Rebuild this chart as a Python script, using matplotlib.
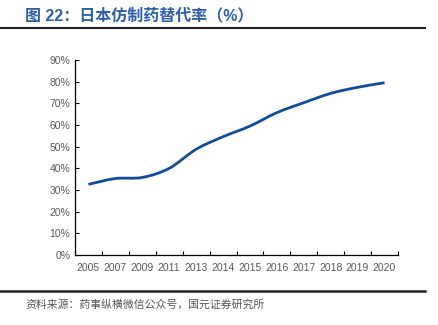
import numpy as np
import matplotlib
matplotlib.use('Agg')
import matplotlib.pyplot as plt
from matplotlib.path import Path
from matplotlib.patches import PathPatch
from matplotlib.lines import Line2D

plt.rcParams['font.family'] = ['Liberation Sans', 'Noto Sans CJK SC', 'DejaVu Sans']

# 数据
years = ['2005', '2007', '2009', '2011', '2013', '2014',
         '2015', '2016', '2017', '2018', '2019', '2020']
rate = [32.6, 35.3, 35.8, 40.0, 48.8, 54.6,
        59.5, 65.7, 70.3, 74.6, 77.4, 79.5]

title = '图 22：日本仿制药替代率（%）'
source = '资料来源：药事纵横微信公众号，国元证券研究所'

fig = plt.figure(figsize=(4.38, 3.25), dpi=100)
ax = fig.add_axes([75/438, 1-255/325, 323/438, 195/325])

# 平滑曲线 (Catmull-Rom -> bezier)
x = np.arange(len(years), dtype=float)
y = np.array(rate) / 100
verts = [(x[0], y[0])]
codes = [Path.MOVETO]
for i in range(len(x) - 1):
    p0 = (x[max(i-1, 0)], y[max(i-1, 0)])
    p1 = (x[i], y[i])
    p2 = (x[i+1], y[i+1])
    p3 = (x[min(i+2, len(x)-1)], y[min(i+2, len(x)-1)])
    c1 = (p1[0] + (p2[0]-p0[0])/6, p1[1] + (p2[1]-p0[1])/6)
    c2 = (p2[0] - (p3[0]-p1[0])/6, p2[1] - (p3[1]-p1[1])/6)
    verts += [c1, c2, p2]
    codes += [Path.CURVE4] * 3
ax.add_patch(PathPatch(Path(verts, codes), facecolor='none',
                       edgecolor='#0F4C9E', lw=2.0, capstyle='butt'))

ax.set_xlim(-0.5, len(years) - 0.5)
ax.set_ylim(0, 0.9)
ax.set_xticks(np.arange(-0.5, len(years), 1))
ax.set_xticklabels([])
ax.set_xticks(x, minor=True)
ax.set_xticklabels(years, minor=True)
ax.set_yticks(np.arange(0, 0.91, 0.1))
ax.set_yticklabels(['%d%%' % v for v in range(0, 91, 10)])
ax.tick_params(axis='both', which='major', direction='in', length=3,
               width=0.8, colors='black', labelcolor='#595959', labelsize=7.5)
ax.tick_params(axis='x', which='minor', length=0, labelcolor='#595959',
               labelsize=7.5, pad=6)
ax.tick_params(axis='x', which='major', pad=6)
for s in ['top', 'right']:
    ax.spines[s].set_visible(False)
for s in ['left', 'bottom']:
    ax.spines[s].set_linewidth(0.9)

# 标题和来源
fig.text(25/438, 1-16/325, title, color='#2F5FA8', fontsize=11.5,
         fontweight='bold', va='center', ha='left',
         family=['Liberation Sans', 'Noto Sans CJK SC'])
fig.add_artist(Line2D([0, 425/438], [1-27.7/325]*2, color='#222222', lw=1.5))
fig.add_artist(Line2D([0, 425/438], [1-290.7/325]*2, color='#222222', lw=1.8))
fig.text(25/438, 1-305/325, source, color='#555555', fontsize=7.8,
         va='center', ha='left', family=['Noto Sans CJK SC', 'DejaVu Sans'])

fig.savefig('out.png', dpi=100)
